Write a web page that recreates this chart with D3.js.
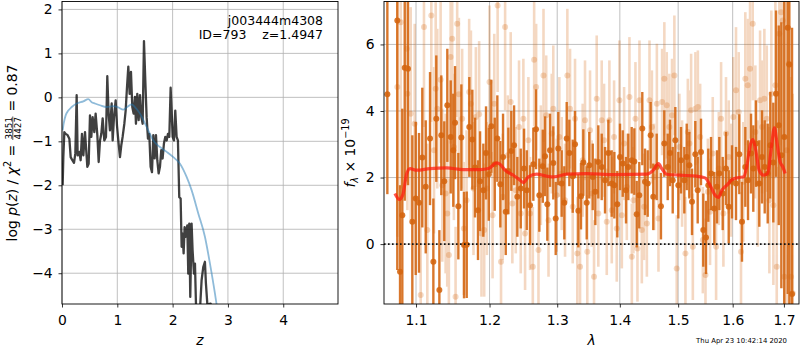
<!DOCTYPE html>
<html>
<head>
<meta charset="utf-8">
<script src="https://cdn.jsdelivr.net/npm/d3@7"></script>
<style>
  body { margin: 0; background: #fff; }
  text { font-family: "DejaVu Sans", sans-serif; white-space: pre; }
</style>
</head>
<body>
<script>
// ---------- p(z) panel ----------
const zGrid = [0.012,0.024,0.042,0.066,0.102,0.133,0.157,0.187,0.217,0.241,0.265,0.283,0.313,0.337,0.361,0.386,0.416,0.434,0.458,0.482,
  0.506,0.530,0.554,0.584,0.608,0.639,0.663,0.687,0.711,0.735,0.765,0.795,0.819,0.843,0.867,0.898,0.916,0.940,0.970,0.994,
  1.018,1.048,1.072,1.096,1.127,1.151,1.175,1.199,1.223,1.247,1.271,1.295,1.319,1.337,1.361,1.386,1.410,1.434,1.458,1.482,
  1.506,1.530,1.554,1.578,1.602,1.627,1.651,1.675,1.699,1.723,1.747,1.771,1.795,1.819,1.843,1.867,1.892,1.916,1.940,1.964,
  1.982,2.000,2.024,2.048,2.072,2.096,2.120,2.145,2.163,2.181,2.199,2.217,2.241,2.265,2.283,2.301,2.319,2.343,2.361,2.386,
  2.404,2.422,2.452,2.494,2.524,2.554,2.584,2.602,2.627,2.651,2.687,2.735,2.855];
const lnpZ = [-2.00,-1.36,-0.79,-0.83,-0.86,-0.94,-1.36,-1.43,-1.49,-1.28,0.05,-1.32,-1.24,-1.43,-0.83,-1.32,-0.79,-1.13,-1.58,-1.51,
  -0.41,-0.90,-0.45,-0.79,-0.37,-0.86,-1.47,-0.98,-0.83,-0.48,-0.98,-0.90,0.48,-0.37,-0.75,-0.14,-0.98,-0.45,-0.07,-0.64,
  -0.98,-1.36,-1.09,-0.90,-0.60,-0.30,0.23,0.70,0.08,0.58,-0.22,-0.37,0.01,-0.60,0.08,-0.52,0.05,-0.45,-0.60,1.28,
  0.39,-0.45,-0.94,-0.83,-1.58,-1.70,-0.86,-1.39,-0.86,-1.43,-1.73,-1.58,-1.20,-1.39,-1.05,-0.90,-0.98,-0.83,-0.90,0.22,
  -0.30,-0.90,-0.98,-0.30,-0.90,-0.98,-2.27,-2.30,-3.40,-3.10,-3.55,-2.95,-3.17,-2.91,-4.01,-2.87,-4.54,-2.87,-3.48,-4.01,
  -3.78,-4.69,-5.37,-4.84,-4.16,-3.86,-3.74,-4.23,-4.69,-4.70,-4.69,-5.75,-6.89];
const priorZ = [0.012,0.024,0.036,0.066,0.114,0.175,0.265,0.386,0.476,0.536,0.596,0.687,0.807,0.928,1.018,1.108,1.199,1.259,1.319,1.410,
  1.530,1.651,1.771,1.892,2.012,2.133,2.253,2.343,2.464,2.584,2.675,2.765,2.825,2.886];
const priorLnp = [-0.75,-0.64,-0.56,-0.41,-0.30,-0.22,-0.14,-0.09,-0.04,-0.11,-0.14,-0.18,-0.22,-0.20,-0.23,-0.28,-0.20,-0.16,-0.22,-0.37,
  -0.67,-0.98,-1.13,-1.24,-1.36,-1.51,-1.81,-2.11,-2.64,-3.17,-3.78,-4.46,-4.99,-5.75];
const zTicks = [0, 1, 2, 3, 4];
const lnpTicks = [-4, -3, -2, -1, 0, 1, 2];

// ---------- spectrum panel ----------
const darkWave = [1.0633,1.0759,1.0794,1.0823,1.0854,1.0896,1.0952,1.0996,1.1039,1.1082,1.1127,1.1184,1.1228,1.1267,1.1308,1.1334,1.1374,1.1415,1.1461,1.1496,
  1.1520,1.1565,1.1606,1.1643,1.1680,1.1716,1.1758,1.1795,1.1837,1.1866,1.1912,1.1950,1.1989,1.2025,1.2074,1.2111,1.2154,1.2193,1.2232,1.2270,
  1.2313,1.2353,1.2401,1.2451,
  1.2500,1.2540,1.2589,1.2638,1.2678,1.2728,1.2780,1.2814,1.2849,1.2890,1.2940,1.2977,1.3017,1.3069,1.3110,1.3147,1.3188,1.3241,1.3277,1.3329,
  1.3371,1.3408,1.3462,1.3503,1.3558,1.3600,1.3648,1.3703,1.3757,1.3811,1.3866,1.3909,1.3958,1.4003,1.4048,1.4103,1.4141,1.4198,1.4242,1.4282,
  1.4326,1.4377,1.4423,1.4469,1.4520,1.4565,1.4624,
  1.4698,1.4756,1.4816,1.4856,1.4904,1.4950,1.5003,1.5051,1.5110,1.5153,1.5200,1.5248,1.5308,1.5351,1.5411,1.5453,1.5503,1.5545,1.5595,1.5656,
  1.5706,1.5749,1.5812,1.5874,1.5925,1.5987,1.6063,1.6126,1.6177,1.6241,1.6293,1.6351,1.6395,1.6448,1.6512,1.6565,1.6618,1.6677,1.6728,1.6788,
  1.6842,1.6896,1.6948,1.7008,1.7077,1.7109,1.7164];
const darkFlux = [4.5,6.72,-0.83,0.87,5.3,5.27,0.67,1.37,1.24,2.6,1.72,3.17,-0.53,3.77,-1.38,3.27,1.89,4.17,3.22,2.82,
  3.65,1.14,3.2,-0.03,-0.02,3.52,3.14,2.3,1.02,1.89,1.62,2.74,2.1,3.54,2.4,3.17,1.8,2.62,0.97,2.2,
  2.8,2.97,1.42,1.67,
  2.27,1.62,1.17,2.4,3.45,1.47,2.34,2.64,1.2,2.82,2.44,0.77,2.87,1.82,1.24,3.17,2.74,2.04,3.0,1.0,
  1.44,2.45,1.24,2.37,2.02,1.57,2.47,2.32,1.92,2.74,1.82,1.77,1.2,2.62,2.42,1.62,2.32,2.52,2.48,0.9,
  1.47,3.47,1.87,1.82,3.27,1.42,2.32,
  1.14,3.02,2.32,2.74,1.92,3.12,1.77,2.52,1.92,2.62,2.37,1.27,2.7,1.62,2.77,0.42,0.2,1.77,2.12,1.07,
  1.72,2.12,1.52,2.27,1.12,1.87,1.82,2.7,0.67,2.32,1.92,2.72,2.27,3.02,1.82,2.62,2.32,2.12,2.97,2.45,
  4.52,3.57,2.67,3.22,6.5,5.4,-1.5];
const darkErr = [3.0,7.5,2.6,3.2,4.0,3.5,2.6,2.3,2.1,2.1,2.0,2.0,1.9,1.9,1.8,1.8,1.8,1.7,1.7,1.7,
  1.7,1.6,1.6,1.6,1.6,1.5,1.5,1.5,1.5,1.5,1.4,1.4,1.4,1.4,1.4,1.3,1.3,1.3,1.3,1.3,
  1.2,1.2,1.2,1.2,
  1.2,1.2,1.2,1.1,1.2,1.1,1.1,1.2,1.1,1.1,1.1,1.1,1.1,1.0,1.1,1.1,1.0,1.1,1.0,1.1,
  1.0,1.0,1.1,1.0,1.0,1.0,1.1,1.0,1.0,1.0,1.0,1.0,1.0,1.0,1.0,1.0,1.0,1.0,1.0,1.0,
  1.0,1.1,1.0,1.0,1.0,1.0,1.0,
  1.0,1.0,1.0,1.0,1.0,1.0,1.0,1.0,1.0,1.0,1.0,1.0,1.0,1.0,1.0,1.1,1.1,1.1,1.1,1.1,
  1.1,1.1,1.1,1.1,1.1,1.1,1.1,1.2,1.2,1.2,1.2,1.2,1.3,1.3,1.3,1.4,1.4,1.5,1.6,1.8,
  2.5,3.0,4.0,6.0,8.0,8.0,8.0];

const lightWave = [1.0759,1.0803,1.0880,1.0888,1.0931,1.0983,1.1061,1.1104,1.1148,1.1201,1.1237,1.1259,1.1280,1.1325,1.1347,1.1392,1.1414,1.1436,1.1460,1.1481,
  1.1504,1.1527,1.1549,1.1572,1.1617,1.1641,1.1678,1.1714,1.1738,1.1774,1.1807,1.1853,1.1886,1.1924,1.1962,1.1999,1.2043,1.2067,1.2115,1.2164,
  1.2188,1.2223,1.2261,1.2304,1.2328,1.2378,1.2426,1.2451,
  1.2490,1.2515,1.2564,1.2589,1.2630,1.2650,1.2680,1.2715,1.2751,1.2791,1.2832,1.2867,1.2916,1.2940,1.2992,1.3033,1.3069,1.3121,1.3157,1.3199,
  1.3241,1.3277,1.3313,1.3356,1.3398,1.3435,1.3471,1.3515,1.3542,1.3579,1.3622,1.3648,1.3703,1.3741,1.3785,1.3828,1.3867,1.3905,1.3949,1.3993,
  1.4033,1.4071,1.4116,1.4160,1.4200,1.4227,1.4261,1.4295,1.4329,1.4369,1.4409,1.4455,1.4500,1.4541,1.4581,1.4627,1.4655,
  1.4718,1.4757,1.4799,1.4845,1.4892,1.4933,1.4975,1.5022,1.5070,1.5130,1.5173,1.5201,1.5232,1.5263,1.5310,1.5354,1.5396,1.5445,1.5493,1.5537,
  1.5577,1.5627,1.5689,1.5739,1.5782,1.5825,1.5874,1.5925,1.5968,1.6012,1.6063,1.6114,1.6158,1.6202,1.6241,1.6287,1.6332,1.6384,1.6435,1.6482,
  1.6527,1.6566,1.6611,1.6658,1.6710,1.6749,1.6789,1.6829,1.6856,1.6908,1.6942,1.6976,1.7008,1.7056,1.7097,1.7143,1.7178];
const lightFlux = [4.72,6.67,5.87,4.52,3.92,3.62,-1.53,6.52,0.42,6.87,2.82,4.67,4.07,4.94,1.77,1.52,0.92,-0.33,5.62,6.17,
  2.92,-1.58,6.62,4.5,3.77,0.47,1.32,4.57,4.22,1.67,3.82,3.9,0.32,0.42,1.67,4.87,0.87,4.22,7.17,-0.53,
  1.42,6.52,2.67,4.27,1.22,1.62,3.52,0.92,
  3.77,0.32,3.12,0.92,-0.68,5.54,4.72,-0.18,2.37,5.07,3.87,0.72,3.32,4.07,1.47,3.22,2.12,1.32,5.07,4.07,
  1.12,3.77,-0.28,-0.68,2.52,3.72,-0.23,3.42,1.52,-0.98,4.37,0.92,3.72,3.12,0.67,3.72,1.02,3.22,0.47,4.32,
  0.87,3.02,1.72,4.42,-0.38,1.32,3.77,-0.13,4.32,0.42,1.12,0.62,4.32,3.52,2.02,4.22,0.77,
  4.27,4.97,4.17,3.52,3.87,5.07,-0.73,2.92,2.12,-0.28,3.37,3.02,4.02,-0.08,4.07,4.12,3.22,0.12,-0.93,1.57,
  0.97,2.72,-0.08,2.27,3.77,0.92,3.32,2.62,1.92,3.82,4.62,3.97,-0.23,1.87,4.97,4.77,5.27,6.62,3.37,1.82,
  4.32,3.52,4.37,3.77,1.32,4.52,1.17,4.77,-0.68,6.32,6.97,6.72,-0.98,2.82,5.42,-0.98,-1.48];
const lightErr = [4.5,5.0,4.0,3.5,3.2,3.0,2.8,3.0,2.6,3.2,2.5,2.6,2.4,2.5,2.3,2.4,2.2,2.3,2.6,2.7,
  2.2,2.1,2.8,2.3,2.1,2.0,2.1,2.2,2.2,2.0,2.1,2.2,1.9,2.0,2.0,2.3,1.9,2.1,2.6,1.9,
  1.9,2.5,1.8,2.1,1.8,1.9,2.0,1.8,
  1.8,1.7,1.9,1.7,1.8,2.0,1.9,1.7,1.8,2.0,1.8,1.7,1.8,1.9,1.7,1.8,1.7,1.7,2.0,1.8,
  1.7,1.8,1.7,1.8,1.7,1.8,1.7,1.8,1.6,1.7,1.9,1.6,1.8,1.7,1.6,1.8,1.6,1.7,1.6,1.8,
  1.6,1.7,1.6,1.8,1.6,1.6,1.7,1.6,1.8,1.6,1.6,1.6,1.8,1.7,1.6,1.8,1.6,
  1.6,1.7,1.6,1.6,1.7,1.8,1.6,1.6,1.6,1.7,1.6,1.6,1.7,1.6,1.7,1.7,1.6,1.6,1.7,1.6,
  1.6,1.7,1.6,1.7,1.7,1.6,1.7,1.7,1.7,1.8,1.9,1.8,1.8,1.8,2.0,2.0,2.1,2.3,2.0,1.9,
  2.1,2.0,2.1,2.2,2.2,2.5,2.4,2.8,3.0,3.5,4.0,4.5,5.0,5.5,5.5,6.0,6.0];

const modelWave = [1.0729,1.0785,1.0828,1.0880,1.0922,1.1009,1.1184,1.1406,1.1630,1.1866,1.1985,1.2105,1.2150,1.2222,1.2343,1.2441,1.2490,1.2564,1.2690,1.2843,
  1.2945,1.3147,1.3463,1.3895,1.4455,1.4565,1.4655,1.4711,1.4799,1.5033,1.5333,1.5486,1.5577,1.5670,1.5733,1.5797,1.5891,1.5987,1.6115,1.6212,
  1.6278,1.6343,1.6389,1.6443,1.6509,1.6597,1.6676,1.6743,1.6809,1.6863,1.6924,1.6978,1.7025];
const modelFlux = [1.52,1.34,1.47,2.12,2.27,2.22,2.27,2.29,2.24,2.24,2.27,2.44,2.40,2.22,2.07,1.92,1.85,2.02,2.10,2.04,
  2.02,2.10,2.12,2.09,2.10,2.22,2.42,2.27,2.10,2.07,2.04,1.99,1.77,1.47,1.40,1.62,1.77,1.94,2.00,2.02,
  2.42,3.02,3.14,2.82,2.22,2.07,2.12,2.82,3.49,3.02,2.47,2.32,2.12];
const waveTicks = [1.1, 1.2, 1.3, 1.4, 1.5, 1.6, 1.7];
const fluxTicks = [0, 2, 4, 6];

const objName = "j003444m4308";
const objInfo = "ID=793    z=1.4947";
const stamp = "Thu Apr 23 10:42:14 2020";

// ---------- layout ----------
const FS = 13.9;           // 10pt at 100 dpi
const axTop = 1.5, axBottom = 304;
const orange = "#d4650f";

const svg = d3.select("body").append("svg")
    .attr("width", 800).attr("height", 350)
    .style("background", "#fff");
const defs = svg.append("defs");

function setupAxes(id, x, y, xTicks, yTicks) {
    const [x0, x1] = x.range();
    defs.append("clipPath").attr("id", id + "-clip")
        .append("rect")
        .attr("x", x0).attr("y", axTop)
        .attr("width", x1 - x0).attr("height", axBottom - axTop);

    const g = svg.append("g").attr("id", id);
    const grid = g.append("g")
        .attr("stroke", "#b0b0b0").attr("stroke-width", 0.8);
    grid.selectAll(".gx").data(xTicks).join("line").attr("class", "gx")
        .attr("x1", d => x(d)).attr("x2", d => x(d))
        .attr("y1", axTop).attr("y2", axBottom);
    grid.selectAll(".gy").data(yTicks).join("line").attr("class", "gy")
        .attr("x1", x0).attr("x2", x1)
        .attr("y1", d => y(d)).attr("y2", d => y(d));

    const plot = g.append("g").attr("clip-path", `url(#${id}-clip)`);
    return { g, plot };
}

function finishAxes(g, x, y, xTicks, yTicks, xFmt, yFmt) {
    const [x0, x1] = x.range();
    g.append("g")
        .attr("transform", `translate(0,${axBottom})`)
        .call(d3.axisBottom(x).tickValues(xTicks).tickFormat(xFmt).tickSize(3.5).tickPadding(7.6))
        .call(a => a.select(".domain").remove())
        .attr("font-size", FS).attr("font-family", "DejaVu Sans");
    g.append("g")
        .attr("transform", `translate(${x0},0)`)
        .call(d3.axisLeft(y).tickValues(yTicks).tickFormat(yFmt).tickSize(3.5).tickPadding(5.8))
        .call(a => a.select(".domain").remove())
        .attr("font-size", FS).attr("font-family", "DejaVu Sans");
    g.selectAll(".tick line").attr("stroke", "#000").attr("stroke-width", 0.8);
    g.selectAll(".tick text").attr("fill", "#000");
    g.append("rect")
        .attr("x", x0).attr("y", axTop)
        .attr("width", x1 - x0).attr("height", axBottom - axTop)
        .attr("fill", "none").attr("stroke", "#000").attr("stroke-width", 0.9);
}

// lays out a run of text pieces (rotated label), returns total length
function mathRun(g, pieces) {
    let cx = 0;
    pieces.forEach(p => {
        if (p.frac) {
            const num = g.append("text").attr("font-size", p.size).text(p.frac[0]);
            const den = g.append("text").attr("font-size", p.size).text(p.frac[1]);
            const w = Math.max(num.node().getComputedTextLength(), den.node().getComputedTextLength()) + 2;
            num.attr("x", cx + w / 2).attr("y", -4.9).attr("text-anchor", "middle");
            den.attr("x", cx + w / 2).attr("y", 4.0).attr("text-anchor", "middle");
            g.append("line")
                .attr("x1", cx + 0.5).attr("x2", cx + w - 0.5)
                .attr("y1", -3.7).attr("y2", -3.7)
                .attr("stroke", "#000").attr("stroke-width", 0.7);
            cx += w;
            return;
        }
        const t = g.append("text")
            .attr("x", cx).attr("y", p.dy || 0)
            .attr("font-size", p.size || FS)
            .attr("font-style", p.it ? "italic" : null)
            .text(p.t);
        cx += t.node().getComputedTextLength();
    });
    return cx;
}

function rotatedLabel(x, y, pieces) {
    const outer = svg.append("g").attr("transform", `translate(${x},${y}) rotate(-90)`);
    const inner = outer.append("g");
    const len = mathRun(inner, pieces);
    inner.attr("transform", `translate(${-len / 2},0)`);
}

// ---------- left: log p(z) ----------
const xz = d3.scaleLinear().domain([0, 4.99]).range([62, 338]);
const yz = d3.scaleLinear().domain([-4.7, 2.18]).range([axBottom, axTop]);
const left = setupAxes("pz", xz, yz, zTicks, lnpTicks);

left.plot.append("path")
    .datum(d3.zip(zGrid, lnpZ))
    .attr("d", d3.line().x(d => xz(d[0])).y(d => yz(d[1])))
    .attr("fill", "none").attr("stroke", "#000").attr("stroke-opacity", 0.75)
    .attr("stroke-width", 2.3).attr("stroke-linejoin", "round");

left.plot.append("path")
    .datum(d3.zip(priorZ, priorLnp))
    .attr("d", d3.line().curve(d3.curveMonotoneX).x(d => xz(d[0])).y(d => yz(d[1])))
    .attr("fill", "none").attr("stroke", "#1f77b4").attr("stroke-opacity", 0.5)
    .attr("stroke-width", 1.8);

finishAxes(left.g, xz, yz, zTicks, lnpTicks, d3.format("d"), d3.format("d"));

left.g.append("text").attr("x", 323).attr("y", 24.5).attr("text-anchor", "end")
    .attr("font-size", 12.5).text(objName);
left.g.append("text").attr("x", 323).attr("y", 39).attr("text-anchor", "end")
    .attr("font-size", 12.5).text(objInfo);

svg.append("text").attr("x", 200).attr("y", 345).attr("text-anchor", "middle")
    .attr("font-size", FS).attr("font-style", "italic").text("z");

rotatedLabel(16.5, 153, [
    { t: "log " }, { t: "p", it: true }, { t: "(" }, { t: "z", it: true }, { t: ") / " },
    { t: "χ", it: true }, { t: "2", size: 9.7, dy: -5.5 }, { t: " = " },
    { frac: ["3851", "4427"], size: 8.8 }, { t: " = 0.87" }
]);

// ---------- right: spectrum ----------
const xw = d3.scaleLog().domain([1.0591, 1.7306]).range([384, 799]);
const yf = d3.scaleLinear().domain([-1.8, 7.29]).range([axBottom, axTop]);
const right = setupAxes("spec", xw, yf, waveTicks, fluxTicks);

function errorbars(plot, wave, flux, err, opacity, barW) {
    const pts = d3.range(wave.length).map(i => ({ w: wave[i], f: flux[i], e: err[i] }));
    const g = plot.append("g").attr("opacity", opacity);
    g.selectAll("line").data(pts).join("line")
        .attr("x1", d => xw(d.w)).attr("x2", d => xw(d.w))
        .attr("y1", d => yf(d.f - d.e)).attr("y2", d => yf(d.f + d.e))
        .attr("stroke", orange).attr("stroke-width", barW);
    const m = plot.append("g").attr("opacity", opacity);
    m.selectAll("circle").data(pts).join("circle")
        .attr("cx", d => xw(d.w)).attr("cy", d => yf(d.f)).attr("r", 3)
        .attr("fill", orange);
}

errorbars(right.plot, lightWave, lightFlux, lightErr, 0.25, 2.6);
errorbars(right.plot, darkWave, darkFlux, darkErr, 0.88, 2.4);

right.plot.append("line")
    .attr("x1", 384).attr("x2", 799)
    .attr("y1", yf(0)).attr("y2", yf(0))
    .attr("stroke", "#111").attr("stroke-width", 1.6)
    .attr("stroke-dasharray", "1.6,2.4");

right.plot.append("path")
    .datum(d3.zip(modelWave, modelFlux))
    .attr("d", d3.line().curve(d3.curveMonotoneX).x(d => xw(d[0])).y(d => yf(d[1])))
    .attr("fill", "none").attr("stroke", "#ff1e10").attr("stroke-opacity", 0.75)
    .attr("stroke-width", 3.2).attr("stroke-linejoin", "round");

finishAxes(right.g, xw, yf, waveTicks, fluxTicks, d3.format(".1f"), d3.format("d"));

svg.append("text").attr("x", 591.5).attr("y", 345).attr("text-anchor", "middle")
    .attr("font-size", FS).attr("font-style", "italic").text("λ");

rotatedLabel(355, 153, [
    { t: "f", it: true }, { t: "λ", it: true, size: 9.7, dy: 2.8 },
    { t: " × 10" }, { t: "−19", size: 9.7, dy: -5.8 }
]);

svg.append("text").attr("x", 787).attr("y", 343).attr("text-anchor", "end")
    .attr("font-size", 6.9).text(stamp);
</script>
</body>
</html>
